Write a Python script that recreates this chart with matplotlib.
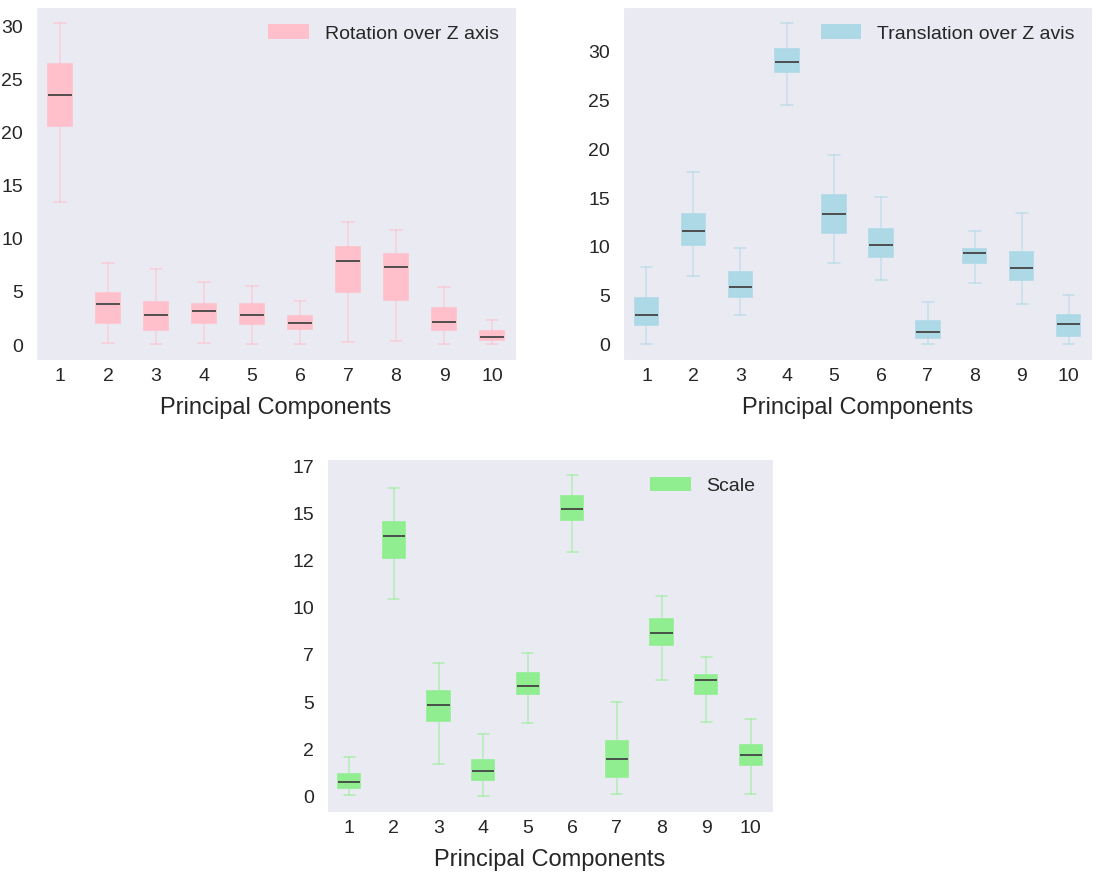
import matplotlib.pyplot as plt
import numpy as np
import seaborn as sns
from matplotlib.patches import Patch
from matplotlib.ticker import FormatStrFormatter

sns.set_style("dark")
plt.rcParams["font.family"] = ["Liberation Sans", "DejaVu Sans"]

components = [1, 2, 3, 4, 5, 6, 7, 8, 9, 10]

# rotation over Z axis: lower whisker, q1, median, q3, upper whisker
rot_lo = [13.5, 0.2, 0.1, 0.2, 0.1, 0.1, 0.3, 0.35, 0.1, 0.1]
rot_q1 = [20.6, 2.1, 1.4, 2.1, 2.0, 1.55, 5.0, 4.2, 1.4, 0.5]
rot_med = [23.5, 3.9, 2.8, 3.2, 2.8, 2.1, 7.9, 7.3, 2.15, 0.8]
rot_q3 = [26.4, 4.9, 4.05, 3.9, 3.9, 2.7, 9.2, 8.55, 3.5, 1.3]
rot_hi = [30.3, 7.7, 7.2, 5.9, 5.6, 4.1, 11.6, 10.85, 5.5, 2.4]

# translation over Z axis
tr_lo = [0.07, 7.0, 3.04, 24.5, 8.35, 6.6, 0.07, 6.3, 4.16, 0.07]
tr_q1 = [1.98, 10.2, 4.84, 27.85, 11.45, 8.93, 0.72, 8.38, 6.57, 0.92]
tr_med = [3.07, 11.59, 5.93, 28.9, 13.4, 10.2, 1.33, 9.38, 7.87, 2.15]
tr_q3 = [4.77, 13.36, 7.46, 30.2, 15.3, 11.86, 2.42, 9.82, 9.48, 3.04]
tr_hi = [7.97, 17.66, 9.9, 32.9, 19.4, 15.1, 4.36, 11.62, 13.46, 5.08]

# scale
sc_lo = [0.09, 10.45, 1.73, 0.02, 3.87, 12.96, 0.12, 6.19, 3.94, 0.12]
sc_q1 = [0.42, 12.66, 4.01, 0.85, 5.41, 14.64, 1.01, 8.04, 5.41, 1.64]
sc_med = [0.78, 13.81, 4.83, 1.33, 5.87, 15.24, 2.00, 8.66, 6.19, 2.21]
sc_q3 = [1.20, 14.53, 5.60, 1.94, 6.52, 15.93, 2.95, 9.42, 6.45, 2.72]
sc_hi = [2.10, 16.35, 7.05, 3.31, 7.60, 17.04, 5.02, 10.64, 7.39, 4.10]


def draw(ax, lo, q1, med, q3, hi, color, label):
    stats = []
    for i in range(len(components)):
        stats.append({"whislo": lo[i], "q1": q1[i], "med": med[i],
                      "q3": q3[i], "whishi": hi[i], "fliers": []})
    ax.bxp(stats, positions=components, widths=0.5, patch_artist=True,
           showfliers=False,
           boxprops=dict(facecolor=color, edgecolor=color, linewidth=1.2),
           whiskerprops=dict(color=color, alpha=0.55, linewidth=1.2),
           capprops=dict(color=color, alpha=0.6, linewidth=1.2),
           medianprops=dict(color="#444444", linewidth=1.3))
    ax.set_xlabel("Principal Components", fontsize=17, labelpad=9)
    ax.tick_params(axis="x", labelsize=14, pad=2)
    ax.tick_params(axis="y", labelsize=14, pad=6)
    ax.legend(handles=[Patch(facecolor=color, edgecolor="none", label=label)],
              loc="upper right", fontsize=14, frameon=False,
              handlelength=2.1, handleheight=0.8, handletextpad=0.8)


fig = plt.figure(figsize=(10.96, 8.73), dpi=100)
W, H = 1096, 873
ax1 = fig.add_axes([36 / W, 1 - 360 / H, 480 / W, 353 / H])
ax2 = fig.add_axes([623 / W, 1 - 360 / H, 469 / W, 353 / H])
ax3 = fig.add_axes([327 / W, 1 - 812 / H, 446 / W, 353 / H])

draw(ax1, rot_lo, rot_q1, rot_med, rot_q3, rot_hi, "pink", "Rotation over Z axis")
draw(ax2, tr_lo, tr_q1, tr_med, tr_q3, tr_hi, "lightblue", "Translation over Z avis")
draw(ax3, sc_lo, sc_q1, sc_med, sc_q3, sc_hi, "lightgreen", "Scale")
ax3.yaxis.set_major_formatter(FormatStrFormatter("%d"))

fig.savefig("out.png", dpi=100)
